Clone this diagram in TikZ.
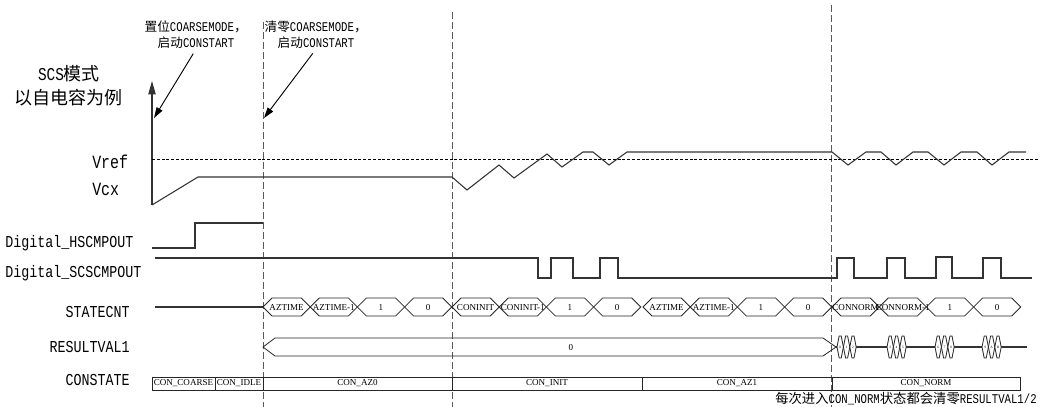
\documentclass[tikz,border=0pt]{standalone}
\usepackage{fontspec}
\setmainfont{Liberation Serif}
\newfontfamily\cjk{Noto Sans CJK SC}
\newfontfamily\nar[FakeStretch=0.8]{Liberation Mono}
\usetikzlibrary{arrows.meta}

\begin{document}
\begin{tikzpicture}[
  x=0.75pt, y=-0.75pt,
  wave/.style={line width=0.8pt, black!80},
  bus/.style={line width=0.6pt, black!85},
  guide/.style={dash pattern=on 5pt off 2.5pt, line width=0.6pt, black!65},
  refline/.style={dash pattern=on 2.2pt off 1.4pt, line width=0.6pt},
  sig/.style={font=\nar\fontsize{12.5}{14}\selectfont, inner sep=0pt},
  note/.style={font=\fontsize{9.5}{12}\selectfont, align=center, inner sep=0pt},
  cell/.style={font=\fontsize{6.8}{7}\selectfont, inner sep=0pt},
  tiny/.style={font=\fontsize{2.6}{3}\selectfont, inner sep=0pt},
  stbox/.style={font=\fontsize{6.8}{8}\selectfont, inner sep=0pt},
  pointer/.style={-{Triangle[length=8pt,width=5pt]}, line width=0.7pt},
]
\useasboundingbox (0,0) rectangle (1040,407);

% title and signal names
\node[font=\fontsize{13.5}{18}\selectfont, align=center] (mode) at (69,86) {\nar SCS\cjk 模式\\\cjk 以自电容为例};
\node[sig, font=\nar\fontsize{14}{15}\selectfont, anchor=west] (vref) at (92,162) {Vref};
\node[sig, font=\nar\fontsize{14}{15}\selectfont, anchor=west] (vcx) at (92,189) {Vcx};
\node[sig, anchor=west] (hscmp) at (5,243) {Digital\_HSCMPOUT};
\node[sig, anchor=west] (scscmp) at (5,273) {Digital\_SCSCMPOUT};
\node[sig, anchor=east] (statecnt) at (130,312) {STATECNT};
\node[sig, anchor=east] (resval) at (130,347) {RESULTVAL1};
\node[sig, anchor=east] (constate) at (130,380) {CONSTATE};

% phase boundaries
\draw[guide] (263,22) -- (263,407);
\draw[guide] (452,12) -- (452,407);
\draw[guide] (831,5) -- (831,407);

% annotations
\node[note] (setnote) at (196,35) {\cjk 置位\nar\fontsize{10}{12}\selectfont COARSEMODE\cjk ，\\\cjk 启动\nar\fontsize{10}{12}\selectfont CONSTART};
\node[note] (clrnote) at (316,35) {\cjk 清零\nar\fontsize{10}{12}\selectfont COARSEMODE\cjk ，\\\cjk 启动\nar\fontsize{10}{12}\selectfont CONSTART};
\coordinate (setpt) at (154,118);
\coordinate (clrpt) at (264,118);
\draw[pointer, shorten <=4pt] (setnote.south) -- (setpt);
\draw[pointer, shorten <=4pt] (clrnote.south) -- (clrpt);

% analog part
\coordinate (origin) at (152,205);
\draw[wave, -{Triangle[length=10pt,width=5.5pt]}] (origin) -- (152,81);
\draw[refline] (152,159) -- (1038,159);
\draw[wave] (origin) -- (198,177) -- (452,177) -- (467,190) -- (499,165) -- (514,178)
  -- (547,154) -- (562,167) -- (583,152) -- (593,152) -- (609,165) -- (627,152)
  -- (832,152) -- (848,165) -- (866,152) -- (881,152) -- (896,165) -- (913,152)
  -- (928,152) -- (944,165) -- (961,152) -- (977,152) -- (992,165) -- (1009,152) -- (1026,152);

% comparator outputs
\draw[wave] (152,248) -- (195,248) -- (195,223) -- (263,223);
\draw[wave] (155,258) -- (538,258) -- (538,278) -- (551,278) -- (551,258) -- (573,258)
  -- (573,278) -- (600,278) -- (600,258) -- (618,258) -- (618,278) -- (837,278)
  -- (837,258) -- (854,258) -- (854,278) -- (887,278) -- (887,258) -- (905,258)
  -- (905,278) -- (936,278) -- (936,257) -- (952,257) -- (952,278) -- (983,278)
  -- (983,258) -- (1001,258) -- (1001,278) -- (1032,278);

% STATECNT
\draw[wave] (155,307) -- (263,307);
\foreach \xs/\first/\second [count=\g] in {263/AZTIME/AZTIME-1, 452/CONINIT/CONINIT-1, 643/AZTIME/AZTIME-1, 832/CONNORM/CONNORM-1} {
  \foreach \t [count=\k from 0] in {\first,\second,1,0} {
    \pgfmathsetmacro\xl{\xs+47.2*\k}
    \pgfmathsetmacro\xr{\xl+47.2}
    \draw[bus] (\xl,307) -- (\xl+9,298) -- (\xr-9,298) -- (\xr,307) -- (\xr-9,316) -- (\xl+9,316) -- cycle;
    \node[cell] (cnt\g\k) at ({(\xl+\xr)/2},307.5) {\t};
  }
}

% RESULTVAL1
\draw[bus] (263,347) -- (275,338) -- (823,338) -- (836,347) -- (823,356) -- (275,356) -- cycle;
\node[cell] (val0) at (571,348) {0};
\draw[wave] (836,347) -- (1027,347);
\foreach \xs/\p/\q/\r [count=\g] in {837/0/1/2, 887/3/4/5, 935/6/7/8, 982/9/A/B} {
  \foreach \t [count=\k from 0] in {\p,\q,\r} {
    \pgfmathsetmacro\xl{\xs+6.4*\k}
    \pgfmathsetmacro\xr{\xl+6.4}
    \draw[bus, fill=white] (\xl,347) -- (\xl+2.2,336) -- (\xr-2.2,336) -- (\xr,347) -- (\xr-2.2,358) -- (\xl+2.2,358) -- cycle;
    \node[tiny] (val\g\k) at ({(\xl+\xr)/2},347) {\t};
  }
}

% CONSTATE
\foreach \xa/\xb/\t [count=\n] in {152/215/CON\_COARSE, 215/263/CON\_IDLE, 263/452/CON\_AZ0, 452/642/CON\_INIT, 642/832/CON\_AZ1, 832/1020/CON\_NORM} {
  \draw[bus] (\xa,377) rectangle (\xb,390);
  \node[stbox] (st\n) at ({(\xa+\xb)/2},383.5) {\t};
}
\node[note, font=\fontsize{10}{12}\selectfont] (normnote) at (906,399) {\cjk 每次进入\nar CON\_NORM\cjk 状态都会清零\nar RESULTVAL1/2};
\end{tikzpicture}
\end{document}
